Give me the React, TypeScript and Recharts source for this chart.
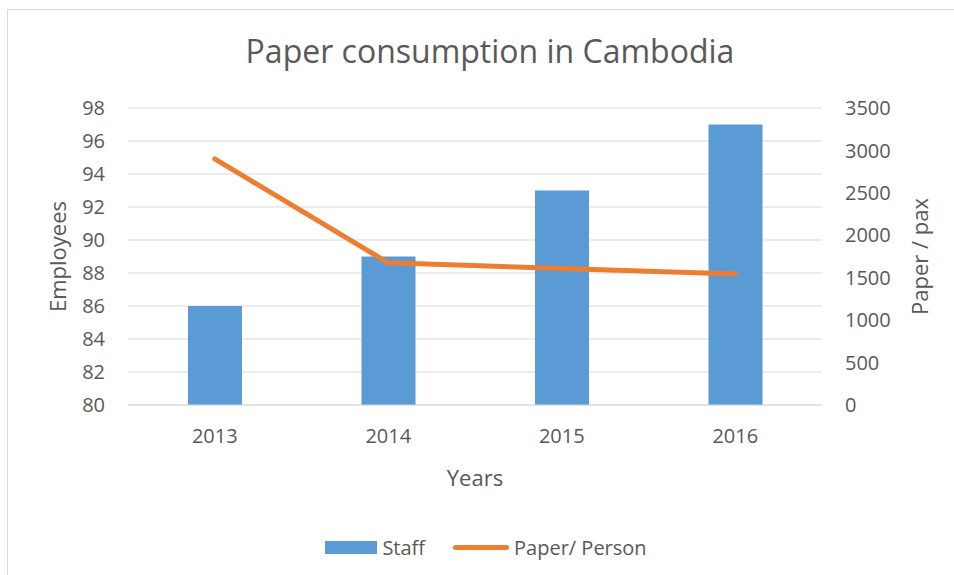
import { ComposedChart, Bar, Line, XAxis, YAxis, CartesianGrid, Legend } from 'recharts'

const years = ['2013', '2014', '2015', '2016']
const staff = [86, 89, 93, 97]
const paperPerPerson = [2900, 1675, 1610, 1545]
const leftTicks = [80, 82, 84, 86, 88, 90, 92, 94, 96, 98]
const rightTicks = [0, 500, 1000, 1500, 2000, 2500, 3000, 3500]

const FONT = "'Open Sans', sans-serif"
const TEXT = '#595959'
const GRID = '#d9d9d9'
const BLUE = '#5B9BD5'
const ORANGE = '#ED7D31'

const data = years.map((year, i) => ({
  year,
  staff: staff[i],
  paper: paperPerPerson[i],
}))

function AxisTitle({ viewBox, value, dx }: any) {
  const { x = 0, y = 0, height = 0 } = viewBox || {}
  const cx = x + dx
  const cy = y + height / 2
  return (
    <text
      x={cx}
      y={cy}
      transform={`rotate(-90 ${cx} ${cy})`}
      textAnchor="middle"
      dominantBaseline="central"
      fill={TEXT}
      fontSize={22}
      fontFamily={FONT}
    >
      {value}
    </text>
  )
}

function YearsTitle({ viewBox }: any) {
  const { x = 0, y = 0, width = 0 } = viewBox || {}
  return (
    <text
      x={x + width / 2}
      y={y + 72}
      textAnchor="middle"
      dominantBaseline="central"
      fill={TEXT}
      fontSize={22}
      fontFamily={FONT}
    >
      Years
    </text>
  )
}

function ChartLegend() {
  return (
    <div
      style={{
        display: 'flex',
        justifyContent: 'center',
        alignItems: 'center',
        height: 30,
        paddingLeft: 18,
        fontFamily: FONT,
        fontSize: 20,
        color: TEXT,
      }}
    >
      <span style={{ display: 'inline-block', width: 52, height: 13, background: BLUE, marginRight: 5 }} />
      <span style={{ marginRight: 28 }}>Staff</span>
      <span
        style={{
          display: 'inline-block',
          width: 56,
          height: 5,
          borderRadius: 3,
          background: ORANGE,
          marginRight: 5,
        }}
      />
      <span>Paper/ Person</span>
    </div>
  )
}

export default function App() {
  return (
    <div
      style={{
        position: 'absolute',
        left: 0,
        top: 0,
        width: 954,
        height: 575,
        overflow: 'hidden',
        background: '#fff',
      }}
    >
      <div
        style={{
          position: 'absolute',
          left: 7,
          top: 9,
          width: 960,
          height: 580,
          border: `1px solid ${GRID}`,
        }}
      />
      <div
        style={{
          position: 'absolute',
          left: 0,
          width: 980,
          top: 31,
          textAlign: 'center',
          fontFamily: FONT,
          fontSize: 32,
          color: TEXT,
          lineHeight: '40px',
        }}
      >
        Paper consumption in Cambodia
      </div>
      <div style={{ position: 'absolute', left: 0, top: 0 }}>
        <ComposedChart
          width={954}
          height={575}
          data={data}
          margin={{ top: 108, right: 0, bottom: 13, left: 0 }}
          barCategoryGap={0}
        >
          <CartesianGrid yAxisId="left" vertical={false} stroke={GRID} strokeWidth={1} />
          <XAxis
            dataKey="year"
            height={127}
            tickSize={0}
            tickMargin={24}
            axisLine={{ stroke: GRID }}
            tick={{ fill: TEXT, fontSize: 20, fontFamily: FONT }}
            label={<YearsTitle />}
          />
          <YAxis
            yAxisId="left"
            orientation="left"
            width={128}
            domain={[80, 98]}
            ticks={leftTicks}
            interval={0}
            tickSize={0}
            tickMargin={23}
            axisLine={false}
            tickLine={false}
            tick={{ fill: TEXT, fontSize: 20, fontFamily: FONT }}
            label={<AxisTitle value="Employees" dx={57} />}
          />
          <YAxis
            yAxisId="right"
            orientation="right"
            width={132}
            domain={[0, 3500]}
            ticks={rightTicks}
            interval={0}
            tickSize={0}
            tickMargin={23}
            axisLine={false}
            tickLine={false}
            tick={{ fill: TEXT, fontSize: 20, fontFamily: FONT, textAnchor: 'start' }}
            label={<AxisTitle value="Paper / pax" dx={97} />}
          />
          <Legend
            content={<ChartLegend />}
            wrapperStyle={{ left: 0, width: 954, bottom: 13, height: 30 }}
          />
          <Bar
            yAxisId="left"
            dataKey="staff"
            name="Staff"
            fill={BLUE}
            barSize={54}
            isAnimationActive={false}
          />
          <Line
            yAxisId="right"
            type="linear"
            dataKey="paper"
            name="Paper/ Person"
            stroke={ORANGE}
            strokeWidth={5}
            strokeLinecap="round"
            strokeLinejoin="round"
            dot={false}
            activeDot={false}
            isAnimationActive={false}
          />
        </ComposedChart>
      </div>
    </div>
  )
}
